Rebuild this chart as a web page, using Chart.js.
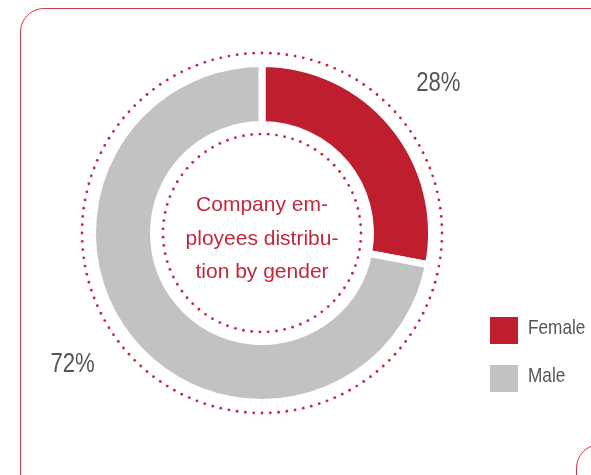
<!DOCTYPE html>
<html>
<head>
<meta charset="utf-8">
<script src="https://cdn.jsdelivr.net/npm/chart.js@4/dist/chart.umd.min.js"></script>
<style>
  html, body { margin: 0; padding: 0; background: #ffffff; overflow: hidden; }
  #wrap { position: relative; width: 591px; height: 475px; }
  .frame { position: absolute; border: 1.5px solid #cf3a49; border-radius: 24px; box-sizing: border-box; }
  #frameMain { left: 20px; top: 8px; width: 640px; height: 500px; }
  #frameNext { left: 576px; top: 444px; width: 200px; height: 200px; }
  canvas { position: absolute; left: 0; top: 0; }
</style>
</head>
<body>
<div id="wrap">
  <div class="frame" id="frameMain"></div>
  <div class="frame" id="frameNext"></div>
  <canvas id="chart" width="591" height="475"></canvas>
</div>
<script>
// Gender split of the company's workforce, in percent
const categories = ['Female', 'Male'];
const shares = [28, 72];
const sliceColors = ['#be1e2d', '#c1c2c4'];
const centerTitle = ['Company em-', 'ployees distribu-', 'tion by gender'];

const RED = '#c4283a';
const GREY_TEXT = '#555555';
const SANS = '"Liberation Sans", Arial, sans-serif';

// Condensed text: regular sans squeezed horizontally
function narrowText(ctx, text, x, y, align) {
  const squeeze = 0.82;
  ctx.save();
  ctx.translate(x, y);
  ctx.scale(squeeze, 1);
  ctx.textAlign = align;
  ctx.fillText(text, 0, 0);
  ctx.restore();
}

// Dotted rings around and inside the donut, plus the centre title
const ringsAndTitle = {
  id: 'ringsAndTitle',
  afterDatasetsDraw(chart) {
    const arc = chart.getDatasetMeta(0).data[0];
    if (!arc) return;
    const { x, y, outerRadius, innerRadius } = arc.getProps(['x', 'y', 'outerRadius', 'innerRadius'], true);
    const ctx = chart.ctx;
    ctx.save();
    ctx.fillStyle = RED;
    const dottedRing = (r) => {
      const n = Math.round((2 * Math.PI * r) / 8.3);
      for (let i = 0; i < n; i++) {
        const a = (i / n) * 2 * Math.PI;
        ctx.beginPath();
        ctx.arc(x + r * Math.cos(a), y + r * Math.sin(a), 1.4, 0, 2 * Math.PI);
        ctx.fill();
      }
    };
    dottedRing(outerRadius + 10.5);
    dottedRing(innerRadius - 9.5);

    ctx.font = '21px ' + SANS;
    ctx.textAlign = 'center';
    ctx.textBaseline = 'alphabetic';
    const lh = 33.5;
    centerTitle.forEach((line, i) => {
      ctx.fillText(line, x, y - 22 + (i * lh));
    });
    ctx.restore();
  }
};

// Percentage labels placed outside each slice, along its middle angle
const sliceLabels = {
  id: 'sliceLabels',
  afterDatasetsDraw(chart) {
    const meta = chart.getDatasetMeta(0);
    const ctx = chart.ctx;
    const nudge = [[-2, -2], [-11, -16]];
    ctx.save();
    ctx.font = '27px ' + SANS;
    ctx.fillStyle = GREY_TEXT;
    ctx.textBaseline = 'middle';
    meta.data.forEach((el, i) => {
      const p = el.getProps(['x', 'y', 'startAngle', 'endAngle', 'outerRadius'], true);
      const mid = (p.startAngle + p.endAngle) / 2;
      const r = p.outerRadius + 62;
      const lx = p.x + r * Math.cos(mid) + nudge[i][0];
      const ly = p.y + r * Math.sin(mid) + nudge[i][1];
      narrowText(ctx, chart.data.datasets[0].data[i] + '%', lx, ly, 'center');
    });
    ctx.restore();
  }
};

// Square-swatch legend on the right
const sideLegend = {
  id: 'sideLegend',
  afterDraw(chart) {
    const ctx = chart.ctx;
    const ds = chart.data.datasets[0];
    ctx.save();
    ctx.font = '21px ' + SANS;
    ctx.textBaseline = 'middle';
    chart.data.labels.forEach((label, i) => {
      const top = 317 + i * 48;
      ctx.fillStyle = ds.backgroundColor[i];
      ctx.fillRect(490, top, 28, 27);
      ctx.fillStyle = GREY_TEXT;
      narrowText(ctx, label, 528, top + 11, 'left');
    });
    ctx.restore();
  }
};

new Chart(document.getElementById('chart'), {
  type: 'doughnut',
  data: {
    labels: categories,
    datasets: [{
      data: shares,
      backgroundColor: sliceColors,
      borderColor: '#ffffff',
      borderWidth: 7,
      hoverOffset: 0
    }]
  },
  options: {
    responsive: false,
    animation: false,
    cutout: '64%',
    layout: { padding: { left: 89, top: 60, right: 156, bottom: 69 } },
    plugins: {
      legend: { display: false },
      tooltip: { enabled: false }
    }
  },
  plugins: [ringsAndTitle, sliceLabels, sideLegend]
});
</script>
</body>
</html>
